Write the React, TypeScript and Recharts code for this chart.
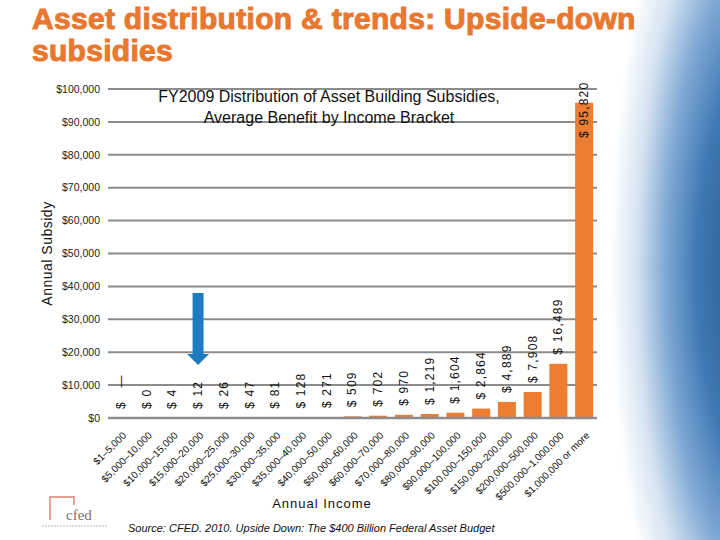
import { Bar, BarChart, CartesianGrid, LabelList, ReferenceDot, ReferenceLine, XAxis, YAxis } from "recharts";

const brackets = [
  "$1–5,000",
  "$5,000–10,000",
  "$10,000–15,000",
  "$15,000–20,000",
  "$20,000–25,000",
  "$25,000–30,000",
  "$30,000–35,000",
  "$35,000–40,000",
  "$40,000–50,000",
  "$50,000–60,000",
  "$60,000–70,000",
  "$70,000–80,000",
  "$80,000–90,000",
  "$90,000–100,000",
  "$100,000–150,000",
  "$150,000–200,000",
  "$200,000–500,000",
  "$500,000–1,000,000",
  "$1,000,000 or more",
];

const avgBenefit = [0, 0.4, 4, 12, 26, 47, 81, 128, 271, 509, 702, 970, 1219, 1604, 2864, 4889, 7908, 16489, 95820];

const yTicks = [0, 10000, 20000, 30000, 40000, 50000, 60000, 70000, 80000, 90000, 100000];

// arrow annotation pointing at the $15k-20k bracket
const arrowBracket = brackets[3];
const arrowFrom = 38000;
const arrowTo = 16100;

const data = brackets.map((b, i) => ({ bracket: b, benefit: avgBenefit[i] }));

const ORANGE = "#ED7D31";
const GRID = "#8c8c8c";

const fmtMoney = (v: number) => "$" + v.toLocaleString("en-US");
const fmtBar = (v: number) => (v === 0 ? "$   —" : "$ " + Math.round(v).toLocaleString("en-US"));

// rotated value text sitting just above a bar top (pixel y)
const valueText = (cx: number, y: number, value: number) => {
  const text = fmtBar(value);
  const len = text.length * 7;
  let base = y - 9;
  if (base - len < 82) base = 82 + len;
  return (
    <text
      x={cx}
      y={base}
      transform={`rotate(-90, ${cx}, ${base})`}
      textAnchor="start"
      dominantBaseline="central"
      fontSize={12}
      letterSpacing={1.2}
      fill="#111"
      style={{ whiteSpace: "pre" }}
    >
      {text}
    </text>
  );
};

const BarValueLabel = (props: any) => {
  const { x, y, width, value } = props;
  if (!value) return null;
  return valueText(x + width / 2, y, value);
};

// zero-height bars get no label from LabelList, so draw that one at the zero point
const ZeroLabel = (props: any) => {
  const { cx, cy } = props;
  return valueText(cx, cy, 0);
};

const BracketTick = (props: any) => {
  const { x, y, payload } = props;
  const tx = x + 6;
  const ty = y + 10;
  return (
    <text
      x={tx}
      y={ty}
      transform={`rotate(-45, ${tx}, ${ty})`}
      textAnchor="end"
      fontSize={10}
      fill="#111"
    >
      {payload.value}
    </text>
  );
};

const DownArrow = (props: any) => {
  const { x1, y1, y2 } = props;
  const head = 11;
  return (
    <g>
      <rect x={x1 - 5.5} y={y1} width={11} height={y2 - y1 - head} fill="#1F7BBF" />
      <path d={`M${x1 - 11},${y2 - head} L${x1 + 11},${y2 - head} L${x1},${y2} Z`} fill="#1F7BBF" />
    </g>
  );
};

export default function App() {
  return (
    <div
      style={{
        position: "absolute",
        left: 0,
        top: 0,
        width: 720,
        height: 540,
        background: "#fff",
        overflow: "hidden",
        fontFamily: "'Liberation Sans', Arial, sans-serif",
      }}
    >
      <div
        style={{
          position: "absolute",
          right: 0,
          top: 0,
          width: 150,
          height: 540,
          background:
            "radial-gradient(ellipse 150px 480px at 190px 270px, #1f4f88 0%, #3f78b4 42%, #7fa8d4 63%, #d5e3f1 82%, rgba(255,255,255,0) 100%)",
        }}
      />
      <div
        style={{
          position: "absolute",
          left: 32,
          top: 3,
          width: 660,
          fontSize: 30,
          lineHeight: "32px",
          fontWeight: 700,
          color: "#E8782F",
          WebkitTextStroke: "1px #E8782F",
          letterSpacing: 0.3,
        }}
      >
        Asset distribution &amp; trends: Upside-down
        <br />
        subsidies
      </div>

      <BarChart
        width={720}
        height={540}
        data={data}
        margin={{ top: 89, right: 123, left: 0, bottom: 0 }}
        barCategoryGap="15%"
        style={{ position: "absolute", left: 0, top: 0 }}
      >
        <CartesianGrid horizontal vertical={false} stroke={GRID} strokeWidth={2} />
        <XAxis
          dataKey="bracket"
          interval={0}
          height={122}
          tick={<BracketTick />}
          tickLine={false}
          axisLine={{ stroke: GRID, strokeWidth: 2.5 }}
        />
        <YAxis
          width={108}
          domain={[0, 100000]}
          ticks={yTicks}
          tickFormatter={fmtMoney}
          tick={{ fontSize: 10.5, fill: "#222" }}
          tickLine={false}
          axisLine={false}
          label={{
            value: "Annual Subsidy",
            angle: -90,
            position: "center",
            dx: -7,
            style: { fontSize: 14, fill: "#111", letterSpacing: 0.5 },
          }}
        />
        <Bar dataKey="benefit" fill={ORANGE} isAnimationActive={false}>
          <LabelList dataKey="benefit" content={<BarValueLabel />} />
        </Bar>
        <ReferenceDot x={brackets[0]} y={avgBenefit[0]} shape={<ZeroLabel />} ifOverflow="visible" />
        <ReferenceLine
          segment={[
            { x: arrowBracket, y: arrowFrom },
            { x: arrowBracket, y: arrowTo },
          ]}
          shape={<DownArrow />}
        />
      </BarChart>

      <div
        style={{
          position: "absolute",
          left: 120,
          top: 86,
          width: 418,
          textAlign: "center",
          fontSize: 16,
          lineHeight: "21px",
          color: "#111",
        }}
      >
        FY2009 Distribution of Asset Building Subsidies,
        <br />
        Average Benefit by Income Bracket
      </div>

      <div
        style={{
          position: "absolute",
          left: 222,
          top: 496,
          width: 200,
          textAlign: "center",
          fontSize: 13,
          letterSpacing: 1,
          color: "#111",
        }}
      >
        Annual Income
      </div>

      <div
        style={{
          position: "absolute",
          left: 128,
          top: 522,
          fontSize: 11,
          fontStyle: "italic",
          color: "#111",
          whiteSpace: "nowrap",
        }}
      >
        Source: CFED. 2010. Upside Down: The $400 Billion Federal Asset Budget
      </div>

      <svg width={80} height={40} style={{ position: "absolute", left: 38, top: 496 }}>
        <path d="M12,24 L12,1 L36,1 L36,9" fill="none" stroke="#d98772" strokeWidth={1.5} />
        <text x={28} y={24} fontSize={15} fill="#777" fontFamily="'Liberation Serif', serif">
          cfed
        </text>
        <line x1={4} y1={30} x2={70} y2={30} stroke="#bbb" strokeWidth={1} strokeDasharray="2 1" />
      </svg>
    </div>
  );
}
